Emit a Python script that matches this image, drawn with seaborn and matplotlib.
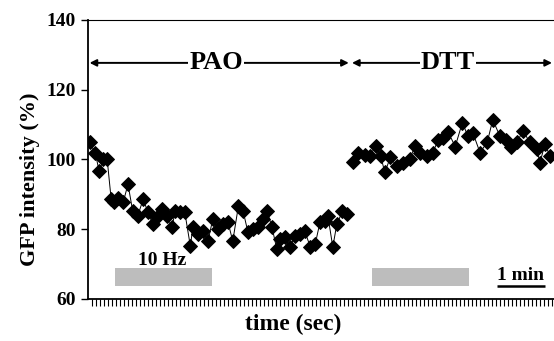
import pandas as pd
import matplotlib.pyplot as plt
import seaborn as sns

# values (time in sec, GFP intensity in %)
pao_time = [2, 9, 14, 19, 24, 29, 33, 38, 44, 50, 56, 62, 69, 75, 81, 86, 92, 99,
            105, 109, 115, 121, 128, 131, 138, 144, 150, 156, 162, 169, 175, 181,
            188, 194, 200, 206, 212, 219, 224, 230, 236, 240, 246, 252, 259, 265,
            271, 278, 284, 290, 296, 300, 306, 311, 318, 324]
pao_gfp = [104.9, 102.0, 96.6, 100.0, 100.0, 88.6, 87.7, 88.9, 87.7, 92.9, 85.1,
           83.7, 88.6, 84.9, 81.4, 83.4, 85.7, 83.7, 80.6, 85.1, 84.9, 84.9, 75.1,
           80.6, 78.6, 79.4, 76.6, 82.9, 80.0, 81.4, 82.0, 76.6, 86.6, 85.1, 79.1,
           80.0, 80.6, 82.9, 85.1, 80.6, 74.3, 77.1, 77.7, 74.9, 78.0, 78.6, 79.4,
           74.9, 75.7, 82.0, 82.3, 83.7, 74.9, 81.4, 85.1, 84.3]

dtt_time = [331, 338, 346, 352, 360, 366, 371, 378, 386, 394, 402, 409, 415, 424,
            431, 438, 444, 450, 459, 468, 475, 481, 490, 499, 506, 515, 522, 529,
            536, 544, 552, 561, 565, 571, 578]
dtt_gfp = [99.4, 102.0, 101.4, 100.9, 104.0, 100.9, 96.3, 100.6, 98.0, 99.1, 100.0,
           104.0, 102.0, 100.9, 102.0, 105.7, 106.3, 108.0, 103.7, 110.6, 106.6,
           107.7, 102.0, 104.9, 111.4, 106.6, 105.7, 103.7, 104.9, 108.3, 104.9,
           102.9, 99.1, 104.3, 100.9]

# treatment periods and stimulation bars
periods = ["PAO", "DTT"]
period_span = [(2, 326), (330, 580)]
label_pos = [160, 450]
stim_label = "10 Hz"
stim_span = [(34, 155), (355, 476)]
scale_span = (511, 571)

pao = pd.DataFrame({"time": pao_time, "gfp": pao_gfp})
dtt = pd.DataFrame({"time": dtt_time, "gfp": dtt_gfp})

sns.set_style("ticks")
plt.rcParams["font.family"] = ["Liberation Serif", "DejaVu Serif"]
plt.rcParams["font.weight"] = "bold"
for key in ("text.color", "axes.labelcolor", "xtick.color", "ytick.color",
            "axes.edgecolor"):
    plt.rcParams[key] = "black"

fig = plt.figure(figsize=(5.54, 3.41), dpi=100)
ax = fig.add_axes([0.1588, 0.1232, 0.8412, 0.8182])

for d in (pao, dtt):
    sns.lineplot(data=d, x="time", y="gfp", ax=ax, color="black", lw=0.7,
                 marker="D", markersize=6.8, markeredgecolor="black",
                 markeredgewidth=0.7)

# period arrows with labels
for name, (a, b), xc in zip(periods, period_span, label_pos):
    ax.annotate("", xy=(a, 127.7), xytext=(b, 127.7),
                arrowprops=dict(arrowstyle="<|-|>", color="black", lw=1.4,
                                mutation_scale=10, shrinkA=0, shrinkB=0))
    ax.text(xc, 127.7, name, ha="center", va="center", fontsize=19,
            fontweight="bold",
            bbox=dict(facecolor="white", edgecolor="none", pad=1.0))

# stimulation bars
for a, b in stim_span:
    ax.fill_between([a, b], 63.7, 68.9, color="#bdbdbd", lw=0)
ax.text(93, 71.0, stim_label, ha="center", va="center", fontsize=14,
        fontweight="bold")

# 1 min scale bar
ax.plot(scale_span, [63.8, 63.8], color="black", lw=1.8, solid_capstyle="butt")
ax.text(sum(scale_span) / 2, 66.8, "1 min", ha="center", va="center",
        fontsize=14, fontweight="bold")

ax.set_xlim(0, 582.5)
ax.set_ylim(60, 140)
ax.set_yticks([60, 80, 100, 120, 140])
ax.set_xticks(range(5, 583, 5))
ax.set_xticklabels([])
ax.tick_params(axis="x", length=5, width=0.8, direction="out")
ax.tick_params(axis="y", length=5, width=1, labelsize=14, pad=4)
for lab in ax.get_yticklabels():
    lab.set_fontweight("bold")

ax.spines["right"].set_visible(False)
for s in ("left", "bottom"):
    ax.spines[s].set_linewidth(1.3)
ax.spines["top"].set_linewidth(0.8)

ax.set_xlabel("time (sec)", fontsize=17, fontweight="bold")
ax.xaxis.set_label_coords(0.44, -0.055)
ax.set_ylabel("GFP intensity (%)", fontsize=16, fontweight="bold")
ax.yaxis.set_label_coords(-0.103, 0.43)

fig.savefig("out.png", dpi=100)
